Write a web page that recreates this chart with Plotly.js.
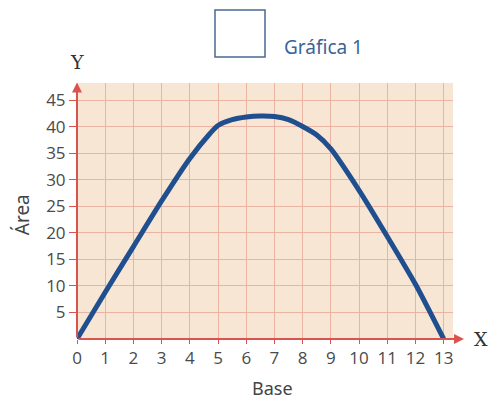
<!DOCTYPE html>
<html>
<head>
<meta charset="utf-8">
<script src="https://cdn.plot.ly/plotly-3.0.1.min.js"></script>
<style>html,body{margin:0;padding:0;background:#fff;}#chart{width:489px;height:403px;}</style>
</head>
<body>
<div id="chart"></div>
<script>
const baseValues = [0, 1, 2, 3, 4, 4.7, 5, 5.5, 6, 6.5, 7, 7.5, 8, 8.5, 9, 10, 11, 12, 13];
const areaValues = [0, 8.8, 17.4, 26, 34, 38.6, 40.2, 41.3, 41.8, 42, 41.9, 41.3, 40, 38.4, 35.8, 28, 19.3, 10.3, 0];
const xTickValues = [0,1,2,3,4,5,6,7,8,9,10,11,12,13];
const yTickValues = [5,10,15,20,25,30,35,40,45];
const seriesName = "Gráfica 1";

const red = "#d9534f";
const grid = "#eab3a3";
const blue = "#1f4f8f";
const tickFont = {family: "Open Sans, Noto Sans, sans-serif", size: 17, color: "#4a4a4a"};

const trace = {
  x: baseValues, y: areaValues, type: "scatter", mode: "lines",
  line: {color: blue, width: 5, shape: "spline", smoothing: 0.7},
  name: seriesName, showlegend: false, hoverinfo: "skip"
};

const layout = {
  width: 489, height: 403,
  margin: {l: 77, r: 36, t: 83, b: 64},
  paper_bgcolor: "#ffffff",
  plot_bgcolor: "#f8e6d4",
  showlegend: false,
  xaxis: {
    range: [0, 13.33], tickvals: xTickValues, ticktext: xTickValues.map(String),
    showgrid: true, gridcolor: grid, gridwidth: 1,
    zeroline: false, showline: false,
    ticks: "outside", ticklen: 4, tickcolor: red, tickwidth: 1,
    tickfont: tickFont, fixedrange: true
  },
  yaxis: {
    range: [0, 48.2], tickvals: yTickValues, ticktext: yTickValues.map(String),
    showgrid: true, gridcolor: grid, gridwidth: 1,
    zeroline: false, showline: false,
    ticks: "outside", ticklen: 7, tickcolor: red, tickwidth: 1,
    tickfont: tickFont, fixedrange: true
  },
  shapes: [
    {type: "rect", xref: "paper", yref: "paper", x0: 0.367, x1: 0.5, y0: 1.1016, y1: 1.285,
     line: {color: "#4a6a92", width: 1.5}, fillcolor: "rgba(0,0,0,0)"}
  ],
  annotations: [
    {xref: "x", yref: "y", axref: "x", ayref: "y", x: 13.72, y: 0, ax: 0, ay: 0,
     showarrow: true, arrowhead: 2, arrowsize: 1, arrowwidth: 2, arrowcolor: red, text: ""},
    {xref: "x", yref: "y", axref: "x", ayref: "y", x: 0, y: 48.3, ax: 0, ay: 0,
     showarrow: true, arrowhead: 2, arrowsize: 1, arrowwidth: 2, arrowcolor: red, text: ""},
    {xref: "paper", yref: "paper", x: 0, y: 1.082, text: "Y", showarrow: false,
     xanchor: "center", yanchor: "middle", font: {family: "DejaVu Serif, serif", size: 19, color: "#333"}},
    {xref: "paper", yref: "paper", x: 1.074, y: 0, text: "X", showarrow: false,
     xanchor: "center", yanchor: "middle", font: {family: "DejaVu Serif, serif", size: 19, color: "#333"}},
    {xref: "paper", yref: "paper", x: -0.146, y: 0.484, text: "Área", showarrow: false, textangle: -90,
     xanchor: "center", yanchor: "middle", font: {family: "Noto Sans, sans-serif", size: 19, color: "#444"}},
    {xref: "paper", yref: "paper", x: 0.519, y: -0.191, text: "Base", showarrow: false,
     xanchor: "center", yanchor: "middle", font: {family: "Noto Sans, sans-serif", size: 18, color: "#444"}},
    {xref: "paper", yref: "paper", x: 0.545, y: 1.1406, text: seriesName, showarrow: false,
     xanchor: "left", yanchor: "middle", font: {family: "Noto Sans, sans-serif", size: 19, color: "#3d6396"}}
  ]
};

Plotly.newPlot("chart", [trace], layout, {staticPlot: true, displayModeBar: false});
</script>
</body>
</html>
